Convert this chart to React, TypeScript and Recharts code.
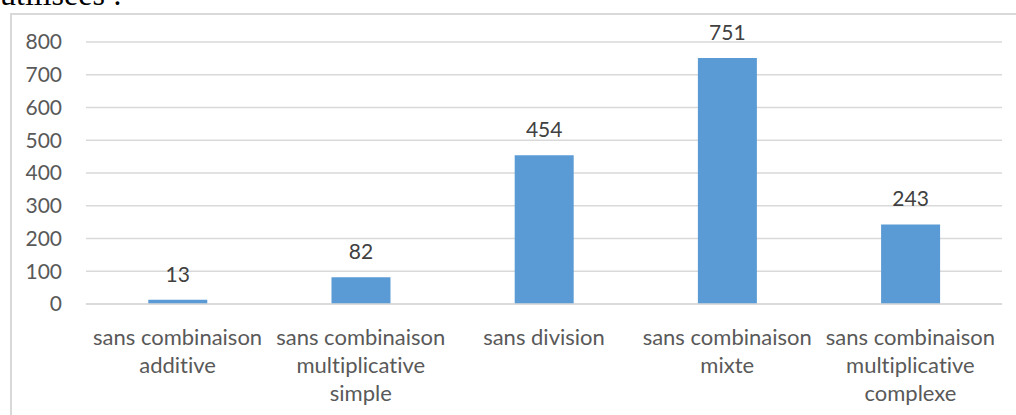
import { Bar, BarChart, CartesianGrid, LabelList, XAxis, YAxis } from "recharts";

const categories = [
  "sans combinaison\nadditive",
  "sans combinaison\nmultiplicative\nsimple",
  "sans division",
  "sans combinaison\nmixte",
  "sans combinaison\nmultiplicative\ncomplexe",
];
const counts = [13, 82, 454, 751, 243];
const yTicks = [0, 100, 200, 300, 400, 500, 600, 700, 800];

const FONT = "Lato, 'Open Sans', sans-serif";
const GRID = "#d9d9d9";
const TEXT = "#595959";

const data = categories.map((name, i) => ({ name, value: counts[i] }));

function CategoryTick({ x, y, payload }: any) {
  const lines = String(payload.value).split("\n");
  return (
    <text
      x={x}
      y={y}
      textAnchor="middle"
      fill={TEXT}
      fontSize={22}
      fontFamily={FONT}
      style={{ fontVariantLigatures: "none" }}
    >
      {lines.map((line, i) => (
        <tspan key={i} x={x} dy={i === 0 ? 41 : 28}>
          {line}
        </tspan>
      ))}
    </text>
  );
}

export default function App() {
  return (
    <div
      style={{
        position: "absolute",
        left: 0,
        top: 0,
        width: 1016,
        height: 415,
        overflow: "hidden",
        background: "#fff",
      }}
    >
      <div
        style={{
          position: "absolute",
          left: 0,
          top: -22,
          fontFamily: "'Liberation Serif', serif",
          fontSize: 32,
          lineHeight: "32px",
          color: "#000",
          whiteSpace: "nowrap",
        }}
      >
        utilisées :
      </div>
      <div
        style={{
          position: "absolute",
          left: 10,
          top: 13,
          width: 1020,
          height: 420,
          borderLeft: `2px solid ${GRID}`,
          borderTop: `2px solid ${GRID}`,
        }}
      />
      <div style={{ position: "absolute", left: 0, top: 0 }}>
        <BarChart
          width={1016}
          height={415}
          data={data}
          margin={{ top: 42, right: 14, bottom: 0, left: 0 }}
          barCategoryGap="34%"
        >
          <CartesianGrid vertical={false} stroke={GRID} strokeWidth={1.5} />
          <XAxis
            dataKey="name"
            height={111}
            interval={0}
            axisLine={{ stroke: GRID, strokeWidth: 1.5 }}
            tickLine={false}
            tickSize={0}
            tickMargin={0}
            tick={<CategoryTick />}
          />
          <YAxis
            width={86}
            domain={[0, 800]}
            ticks={yTicks}
            axisLine={false}
            tickLine={false}
            tickSize={0}
            tickMargin={24}
            tick={{ fill: TEXT, fontSize: 21, fontFamily: FONT }}
          />
          <Bar dataKey="value" fill="#5b9bd5" isAnimationActive={false}>
            <LabelList
              dataKey="value"
              position="top"
              offset={18}
              fill="#404040"
              fontSize={21}
              fontFamily={FONT}
            />
          </Bar>
        </BarChart>
      </div>
    </div>
  );
}
